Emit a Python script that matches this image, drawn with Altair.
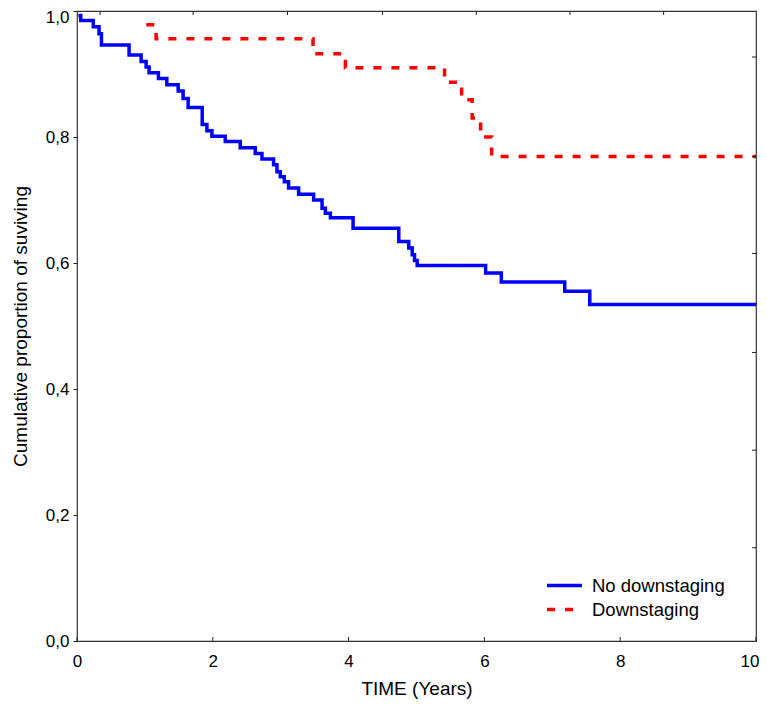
import altair as alt
import pandas as pd

# ---- data ----
groups = ["No downstaging", "Downstaging"]

no_down_t = [0.02, 0.055, 0.24, 0.325, 0.36, 0.767, 0.944, 1.018, 1.062, 1.199, 1.323,
             1.49, 1.563, 1.637, 1.844, 1.913, 1.987, 2.183, 2.404, 2.625, 2.724,
             2.895, 2.945, 2.994, 3.053, 3.116, 3.264, 3.485, 3.609, 3.658, 3.732,
             4.066, 4.739, 4.886, 4.937, 4.971, 5.01, 6.018, 6.249, 7.183, 7.552, 10.0]
no_down_s = [0.993, 0.985, 0.975, 0.964, 0.946, 0.930, 0.920, 0.911, 0.902, 0.893, 0.883,
             0.873, 0.861, 0.847, 0.820, 0.810, 0.801, 0.793, 0.783, 0.774, 0.765,
             0.756, 0.745, 0.737, 0.729, 0.719, 0.709, 0.700, 0.687, 0.679, 0.672,
             0.655, 0.634, 0.624, 0.613, 0.604, 0.596, 0.584, 0.570, 0.555, 0.534, 0.534]

down_t = [1.02, 1.165, 3.476, 3.953, 5.413, 5.664, 5.82, 5.944, 6.106, 10.0]
down_s = [0.978, 0.956, 0.932, 0.910, 0.887, 0.859, 0.830, 0.800, 0.769, 0.769]

x_ticks = [0, 2, 4, 6, 8, 10]
y_ticks = [0.0, 0.2, 0.4, 0.6, 0.8, 1.0]
top_ticks = [0.34, 1.71, 3.10, 4.50, 5.88, 7.26, 8.64]
right_ticks = [0.927, 0.769, 0.615, 0.458, 0.303, 0.148]

W, H = 679, 630
FONT = "Liberation Sans"

df = pd.concat([
    pd.DataFrame({"t": no_down_t, "s": no_down_s, "group": groups[0]}),
    pd.DataFrame({"t": down_t, "s": down_s, "group": groups[1]}),
])

xscale = alt.Scale(domain=[0, 10], nice=False)
yscale = alt.Scale(domain=[0, 1], nice=False)

legend_kw = dict(title=None, orient="none", legendX=468, legendY=565,
                 symbolType="stroke", symbolSize=1225, symbolStrokeWidth=3.5,
                 labelFontSize=18.5, labelFont=FONT, labelColor="#000", labelOffset=8,
                 rowPadding=5, clipHeight=19, padding=0)

lines = alt.Chart(df).mark_line(interpolate="step-after", strokeWidth=3.5).encode(
    x=alt.X("t:Q", scale=xscale,
            axis=alt.Axis(title="TIME (Years)", values=x_ticks, format="d", tickSize=0,
                          labelPadding=12, titlePadding=10, grid=False, domain=False,
                          labelAlign=alt.ExprRef("datum.value == 10 ? 'right' : 'center'"),
                          labelOffset=alt.ExprRef("datum.value == 10 ? 3 : 0"))),
    y=alt.Y("s:Q", scale=yscale,
            axis=alt.Axis(title="Cumulative proportion of suviving", values=y_ticks,
                          tickSize=4, labelPadding=4, titlePadding=15, grid=False,
                          domain=False,
                          labelExpr="replace(format(datum.value, '.1f'), '.', ',')",
                          labelOffset=alt.ExprRef("datum.value == 1 ? 6 : 0"))),
    color=alt.Color("group:N", scale=alt.Scale(domain=groups, range=["#0000ff", "#ff0000"]),
                    legend=alt.Legend(**legend_kw)),
    strokeDash=alt.StrokeDash("group:N", scale=alt.Scale(domain=groups, range=[[1, 0], [8, 10]]),
                              legend=alt.Legend(**legend_kw)),
)

tick_col = "#222"
bottom = alt.Chart(pd.DataFrame({"t": x_ticks})).mark_rule(color=tick_col, strokeWidth=1).encode(
    x=alt.X("t:Q", scale=xscale), y=alt.value(H), y2=alt.value(H - 4))
top = alt.Chart(pd.DataFrame({"t": top_ticks})).mark_rule(color=tick_col, strokeWidth=1).encode(
    x=alt.X("t:Q", scale=xscale), y=alt.value(0), y2=alt.value(4))
right = alt.Chart(pd.DataFrame({"s": right_ticks})).mark_rule(color=tick_col, strokeWidth=1).encode(
    y=alt.Y("s:Q", scale=yscale), x=alt.value(W), x2=alt.value(W - 4))

chart = alt.layer(lines, bottom, top, right).properties(
    width=W, height=H,
    autosize=alt.AutoSizeParams(type="none"),
    padding={"left": 69, "top": 3, "right": 3, "bottom": 61},
    background="white",
).configure_view(stroke="#333", strokeWidth=1.2).configure_axis(
    labelFont=FONT, titleFont=FONT, labelFontSize=17, titleFontSize=19,
    titleFontWeight="normal", labelColor="#000", titleColor="#000", tickColor=tick_col,
)

chart.save("out.html", embed_options={"renderer": "svg", "actions": False})
